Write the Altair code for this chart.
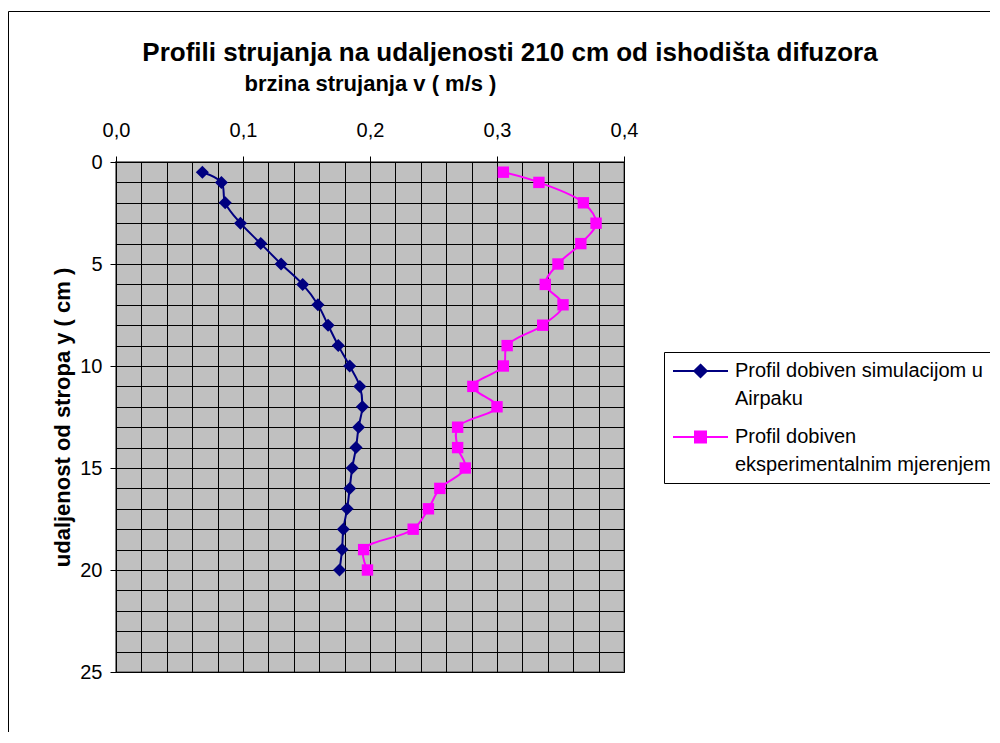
import json
import altair as alt
import pandas as pd

# ---------------- data ----------------
depth_cm = [0.5, 1, 2, 3, 4, 5, 6, 7, 8, 9, 10, 11, 12, 13, 14, 15, 16, 17, 18, 19, 20]
v_simulation = [0.068, 0.083, 0.086, 0.098, 0.114, 0.130, 0.147, 0.159, 0.167, 0.175, 0.184,
                0.192, 0.194, 0.191, 0.189, 0.186, 0.184, 0.182, 0.179, 0.178, 0.176]
v_experiment = [0.305, 0.333, 0.368, 0.378, 0.366, 0.348, 0.338, 0.352, 0.336, 0.308, 0.305,
                0.281, 0.300, 0.269, 0.269, 0.275, 0.255, 0.246, 0.234, 0.195, 0.198]

series_names = ["Profil dobiven simulacijom u Airpaku",
                "Profil dobiven eksperimentalnim mjerenjem"]
legend_lines = [["Profil dobiven simulacijom u", "Airpaku"],
                ["Profil dobiven", "eksperimentalnim mjerenjem"]]
series_colors = ["#000080", "#FF00FF"]
marker_shapes = ["diamond", "square"]
marker_sizes = [170, 130]
# legend symbols: a line with the series marker in its middle (unit = 10 px)
legend_symbols = ["M-1,0H4.5M1.75,-0.62L2.37,0L1.75,0.62L1.13,0Z",
                  "M-1,0H4.5M1.2,-0.55H2.3V0.55H1.2Z"]

x_grid = [0.0, 0.02, 0.04, 0.06, 0.08, 0.1, 0.12, 0.14, 0.16, 0.18, 0.2,
          0.22, 0.24, 0.26, 0.28, 0.3, 0.32, 0.34, 0.36, 0.38, 0.4]
y_grid = [0, 1, 2, 3, 4, 5, 6, 7, 8, 9, 10, 11, 12, 13, 14, 15, 16, 17, 18, 19, 20,
          21, 22, 23, 24, 25]

title_text = "Profili strujanja na udaljenosti 210 cm od ishodišta difuzora"
x_title = "brzina strujanja v ( m/s )"
y_title = "udaljenost od stropa y ( cm )"

FONT = "Liberation Sans"

rows = []
for name, vals in zip(series_names, [v_simulation, v_experiment]):
    for d, v in zip(depth_cm, vals):
        rows.append({"series": name, "v": v, "y": d})
df = pd.DataFrame(rows)

x_major = "abs(datum.value * 10 - round(datum.value * 10)) < 0.001"
y_major = "datum.value % 5 == 0"

x_enc = alt.X(
    "v:Q",
    scale=alt.Scale(domain=[0, 0.4], nice=False, zero=False),
    axis=alt.Axis(
        orient="top", values=x_grid, tickCount=100, title=x_title,
        labelExpr=f"{x_major} ? replace(format(datum.value, '.1f'), '.', ',') : ''",
        tickOpacity={"condition": {"test": x_major, "value": 1}, "value": 0},
        grid=True, gridColor="black", gridWidth=1, gridOpacity=1,
        domainColor="black", domainWidth=1, tickColor="black", tickSize=6, tickWidth=1,
        labelFont=FONT, labelFontSize=20, labelColor="black", labelPadding=16,
        labelFlush=False, labelOverlap=False, labelBound=False,
        titleFont=FONT, titleFontSize=22, titleFontWeight="bold", titleColor="black",
        titlePadding=25,
    ),
)
y_enc = alt.Y(
    "y:Q",
    scale=alt.Scale(domain=[0, 25], nice=False, zero=False, reverse=True),
    axis=alt.Axis(
        values=y_grid, tickCount=100, title=y_title,
        labelExpr=f"{y_major} ? format(datum.value, 'd') : ''",
        tickOpacity={"condition": {"test": y_major, "value": 1}, "value": 0},
        grid=True, gridColor="black", gridWidth=1, gridOpacity=1,
        domainColor="black", domainWidth=1, tickColor="black", tickSize=6, tickWidth=1,
        labelFont=FONT, labelFontSize=20, labelColor="black", labelPadding=8,
        labelOverlap=False, labelFlush=False, labelBound=False,
        titleFont=FONT, titleFontSize=22, titleFontWeight="bold", titleColor="black",
        titlePadding=5,
    ),
)

# marks' colour scale (listed in reverse order so it is kept apart from the legend scales)
mark_color_scale = alt.Scale(domain=series_names[::-1], range=series_colors[::-1])
legend_color_scale = alt.Scale(domain=series_names, range=series_colors)

base = alt.Chart(df).encode(x=x_enc, y=y_enc, order=alt.Order("y:Q"))

lines = base.mark_line(interpolate="catmull-rom", strokeWidth=2).encode(
    color=alt.Color("series:N", scale=mark_color_scale, legend=None)
)

point_layers = []
for name, shp, sz in zip(series_names, marker_shapes, marker_sizes):
    point_layers.append(
        base.transform_filter(alt.datum.series == name)
        .mark_point(filled=True, opacity=1, shape=shp, size=sz)
        .encode(color=alt.Color("series:N", scale=mark_color_scale, legend=None))
    )

label_expr = (f"datum.label == {json.dumps(series_names[0])} ? {json.dumps(legend_lines[0])} : "
              f"{json.dumps(legend_lines[1])}")
legend_props = dict(
    orient="none", legendX=548, legendY=190, title=None,
    strokeColor="black", fillColor="white", padding=8, cornerRadius=0,
    labelFont=FONT, labelFontSize=20, labelColor="black", labelLimit=600,
    labelExpr=label_expr, labelBaseline="middle", labelOffset=41,
    symbolSize=400, symbolStrokeWidth=2, symbolOpacity=1, rowPadding=17,
)

# carrier of the legend only (draws nothing; its symbols are line + marker)
legend_layer = base.transform_filter("false").mark_point(
    filled=True, size=400, strokeWidth=2
).encode(
    fill=alt.Fill("series:N", scale=legend_color_scale, legend=alt.Legend(**legend_props)),
    stroke=alt.Stroke("series:N", scale=legend_color_scale, legend=alt.Legend(**legend_props)),
    shape=alt.Shape("series:N", scale=alt.Scale(domain=series_names, range=legend_symbols),
                    legend=alt.Legend(**legend_props)),
)

frame_df = pd.DataFrame({"k": [0]})
frame_left = alt.Chart(frame_df).mark_rule(color="black", strokeWidth=1).encode(
    x=alt.value(-107.5), y=alt.value(-150.5), y2=alt.value(700)
)
frame_top = alt.Chart(frame_df).mark_rule(color="black", strokeWidth=1).encode(
    x=alt.value(-107.5), x2=alt.value(900), y=alt.value(-150.5)
)

chart = alt.layer(frame_left, frame_top, lines, *point_layers, legend_layer).properties(
    width=508, height=510,
    title=alt.TitleParams(text=title_text, font=FONT, fontSize=26, fontWeight="bold",
                          color="black", anchor="middle", frame="group", dx=140, offset=-55),
    autosize=alt.AutoSizeParams(type="none"),
    padding={"left": 108, "top": 154, "right": 366, "bottom": 60},
).configure(
    background="white",
    style={"guide-label": {"lineHeight": 28}},
    view=alt.ViewConfig(fill="#C0C0C0", stroke="#808080", strokeWidth=2),
)

chart.save("out.html", embed_options={"renderer": "svg", "actions": False})
